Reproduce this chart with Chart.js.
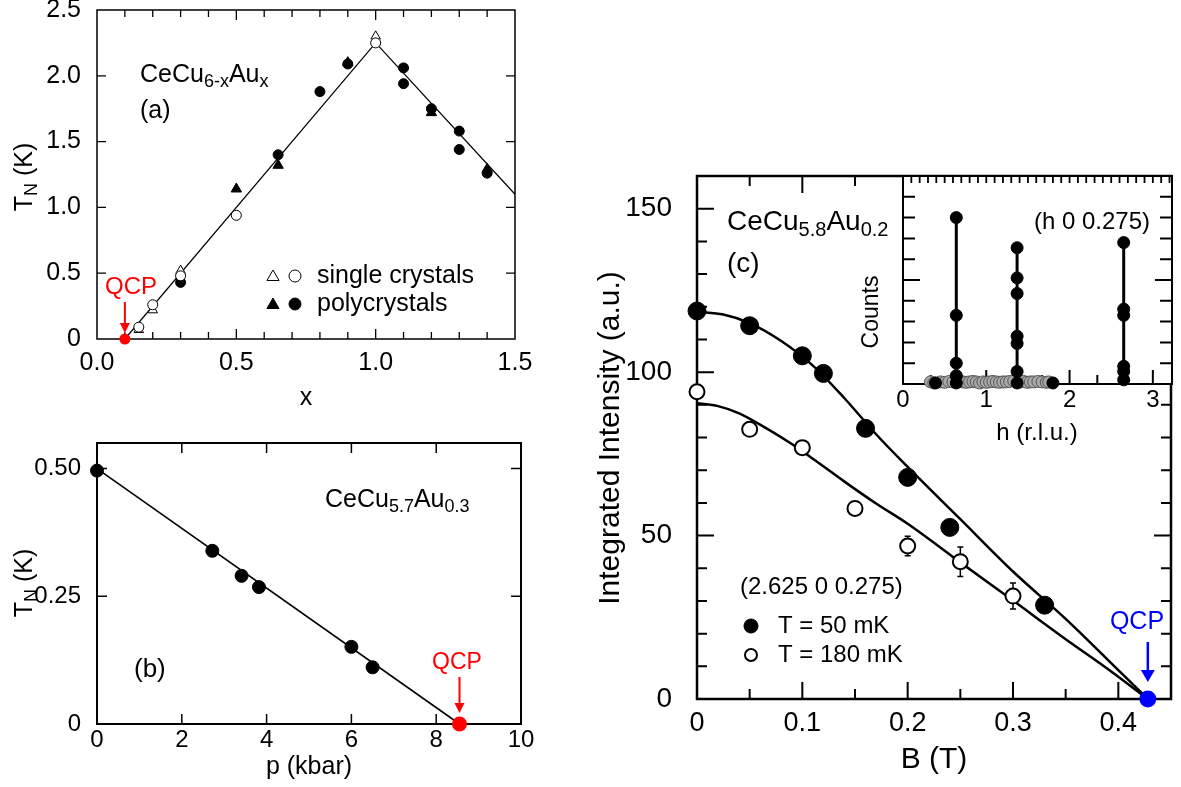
<!DOCTYPE html>
<html>
<head>
<meta charset="utf-8">
<title>CeCu6-xAux quantum critical point</title>
<script src="https://cdn.jsdelivr.net/npm/chart.js@4.4.1/dist/chart.umd.min.js"></script>
<style>
  html, body { margin: 0; padding: 0; background: #fff; }
  #page { position: relative; width: 1181px; height: 787px; overflow: hidden; }
  #page canvas { position: absolute; left: 0; top: 0; }
</style>
</head>
<body>
<div id="page">
  <canvas id="chartA" width="1181" height="787"></canvas>
  <canvas id="chartB" width="1181" height="787"></canvas>
  <canvas id="chartC" width="1181" height="787"></canvas>
  <canvas id="chartInset" width="1181" height="787"></canvas>
</div>
<script>
"use strict";

// ---- panel (a): T_N vs x in CeCu6-xAux ----
const aSingleTriX = [0.15, 0.2, 0.3, 1.0];
const aSingleTriY = [0.07, 0.22, 0.52, 2.30];
const aSingleCirX = [0.15, 0.2, 0.3, 0.5, 1.0];
const aSingleCirY = [0.09, 0.26, 0.48, 0.94, 2.25];
const aPolyTriX = [0.5, 0.65, 0.9, 1.2, 1.4];
const aPolyTriY = [1.14, 1.32, 2.10, 1.72, 1.29];
const aPolyCirX = [0.3, 0.65, 0.8, 0.9, 1.1, 1.1, 1.2, 1.3, 1.3, 1.4];
const aPolyCirY = [0.43, 1.40, 1.88, 2.09, 2.06, 1.94, 1.75, 1.58, 1.44, 1.26];
const aFitX = [0.1, 1.0, 1.5];
const aFitY = [0, 2.25, 1.10];
const aQcp = 0.1;
const aTickX = [0, 0.5, 1.0, 1.5];
const aTickXLabels = ["0.0", "0.5", "1.0", "1.5"];
const aTickY = [0, 0.5, 1.0, 1.5, 2.0, 2.5];
const aTickYLabels = ["0", "0.5", "1.0", "1.5", "2.0", "2.5"];

// ---- panel (b): T_N vs pressure, CeCu5.7Au0.3 ----
const bP = [0, 2.72, 3.41, 3.82, 6.0, 6.5];
const bT = [0.496, 0.339, 0.29, 0.268, 0.151, 0.111];
const bFitP = [0, 8.55];
const bFitT = [0.5, 0];
const bQcp = 8.55;
const bTickX = [0, 2, 4, 6, 8, 10];
const bTickXLabels = ["0", "2", "4", "6", "8", "10"];
const bTickY = [0, 0.25, 0.5];
const bTickYLabels = ["0", "0.25", "0.50"];

// ---- panel (c): integrated intensity vs field, CeCu5.8Au0.2 ----
const cB50 = [0, 0.05, 0.10, 0.12, 0.16, 0.20, 0.24, 0.33];
const cI50 = [118.7, 114.2, 105.0, 99.6, 82.8, 67.8, 52.5, 28.7];
const cB180 = [0, 0.05, 0.10, 0.15, 0.20, 0.25, 0.30];
const cI180 = [94.0, 82.5, 76.9, 58.3, 46.8, 42.0, 31.5];
const cErr180 = [0, 0, 0, 0, 3, 4.5, 4];
const cFitB50 = [0, 0.025, 0.05, 0.08, 0.11, 0.14, 0.17, 0.20, 0.25, 0.30, 0.35, 0.39, 0.428];
const cFitI50 = [118.5, 117.6, 115, 109.5, 102, 92, 81, 71, 55, 39, 24.5, 12, 0];
const cFitB180 = [0, 0.02, 0.04, 0.066, 0.09, 0.11, 0.14, 0.17, 0.20, 0.25, 0.30, 0.35, 0.39, 0.428];
const cFitI180 = [90.5, 89.6, 87.4, 82.8, 78, 73.5, 66.5, 59.8, 53.6, 41.8, 30.1, 18.3, 9.2, 0];
const cQcp = 0.428;
const cTickX = [0, 0.1, 0.2, 0.3, 0.4];
const cTickXLabels = ["0", "0.1", "0.2", "0.3", "0.4"];
const cTickY = [0, 50, 100, 150];
const cTickYLabels = ["0", "50", "100", "150"];

// ---- inset: counts vs h ----
const insetPeakH = [0.64, 1.37, 2.65];
const insetPeak1 = [8.0, 3.3, 1.0, 0.4, 0.05];
const insetPeak2 = [6.55, 5.1, 4.35, 2.3, 1.95, 0.6, 0.05];
const insetPeak3 = [6.8, 3.6, 3.3, 0.85, 0.6, 0.2];
const insetBgH = [0.33, 0.37, 0.45, 0.5, 0.55, 0.6, 0.68, 0.72, 0.76, 0.8, 0.84, 0.88, 0.92, 0.96, 1.0, 1.04,
                  1.08, 1.12, 1.16, 1.2, 1.24, 1.28, 1.33, 1.41, 1.45, 1.49, 1.53, 1.57, 1.62, 1.67, 1.72, 1.75];
const insetBgC = [0.1, 0.05, 0.1, 0.08, 0.12, 0.1, 0.15, 0.1, 0.08, 0.1, 0.12, 0.1, 0.05, 0.1, 0.08, 0.1,
                  0.12, 0.1, 0.08, 0.1, 0.1, 0.12, 0.15, 0.1, 0.12, 0.08, 0.1, 0.1, 0.12, 0.1, 0.08, 0.1];
const insetBaseH = [0.39, 1.8];
const insetBaseC = [0.05, 0.05];
const insetTickX = [0, 1, 2, 3];
const insetTickXLabels = ["0", "1", "2", "3"];

const W = 1181, H = 787;
const FONT = '"Liberation Sans", Arial, Helvetica, sans-serif';

function pts(xs, ys) { return xs.map((x, i) => ({ x: x, y: ys[i] })); }

function axis(min, max, vals, labels, size, pad, fit) {
    return {
        type: "linear", min: min, max: max,
        grid: { display: false }, border: { display: false },
        ticks: {
            display: labels !== null, font: { family: FONT, size: size }, color: "#000",
            padding: pad, autoSkip: false, maxRotation: 0,
            callback: (v, i) => labels ? labels[i] : ""
        },
        afterBuildTicks: s => { s.ticks = vals.map(v => ({ value: v })); },
        afterFit: fit
    };
}
function xFit(bottom) { return s => { s.height = H - bottom; s.paddingLeft = 0; s.paddingRight = 0; }; }
function yFit(left) { return s => { s.width = left; s.paddingTop = 0; s.paddingBottom = 0; }; }

function dots(data, style, r, fill, stroke, bw, order) {
    return { data: data, showLine: false, pointStyle: style, pointRadius: r, pointHoverRadius: r,
             backgroundColor: fill, borderColor: stroke, borderWidth: bw, order: order, clip: false };
}
function line(data, lw, order, smooth) {
    return { data: data, showLine: true, pointRadius: 0, pointHoverRadius: 0, borderColor: "#000",
             backgroundColor: "transparent", borderWidth: lw, order: order, clip: false, tension: 0,
             cubicInterpolationMode: smooth ? "monotone" : "default" };
}

function makeChart(id, box, xs, ys, datasets, decor) {
    return new Chart(document.getElementById(id), {
        type: "scatter",
        data: { datasets: datasets },
        options: {
            responsive: false, animation: false, devicePixelRatio: 1, events: [],
            layout: { padding: { left: 0, top: box.t, right: W - box.r, bottom: 0 } },
            plugins: { legend: { display: false }, tooltip: { enabled: false } },
            scales: { x: xs, y: ys }
        },
        plugins: [decor]
    });
}

// ---- drawing helpers ----
function frame(chart, lw) {
    const ctx = chart.ctx, a = chart.chartArea;
    ctx.save();
    ctx.strokeStyle = "#000";
    ctx.lineWidth = lw;
    ctx.strokeRect(a.left, a.top, a.right - a.left, a.bottom - a.top);
    ctx.restore();
}
function tickMarks(chart, side, vals, lenOf, lw) {
    const ctx = chart.ctx, a = chart.chartArea;
    const horiz = side === "top" || side === "bottom";
    const sc = horiz ? chart.scales.x : chart.scales.y;
    ctx.save();
    ctx.strokeStyle = "#000";
    ctx.lineWidth = lw;
    ctx.beginPath();
    vals.forEach(v => {
        const p = sc.getPixelForValue(v), l = lenOf(v);
        if (side === "bottom") { ctx.moveTo(p, a.bottom); ctx.lineTo(p, a.bottom - l); }
        if (side === "top") { ctx.moveTo(p, a.top); ctx.lineTo(p, a.top + l); }
        if (side === "left") { ctx.moveTo(a.left, p); ctx.lineTo(a.left + l, p); }
        if (side === "right") { ctx.moveTo(a.right, p); ctx.lineTo(a.right - l, p); }
    });
    ctx.stroke();
    ctx.restore();
}
function steps(from, to, step) {
    const out = [];
    for (let k = Math.round(from / step); k * step <= to + 1e-9; k++) out.push(+(k * step).toFixed(6));
    return out;
}
function isMult(v, m) { return Math.abs(v / m - Math.round(v / m)) < 1e-6; }

function rich(ctx, parts, x, y, size, align, color) {
    ctx.save();
    ctx.fillStyle = color || "#000";
    ctx.textBaseline = "middle";
    ctx.textAlign = "left";
    const fonts = parts.map(p => (p[1] ? Math.round(size * 0.7) : size) + "px " + FONT);
    let w = 0;
    const ws = parts.map((p, i) => { ctx.font = fonts[i]; const m = ctx.measureText(p[0]).width; w += m; return m; });
    let cx = align === "center" ? x - w / 2 : align === "right" ? x - w : x;
    parts.forEach((p, i) => {
        ctx.font = fonts[i];
        ctx.fillText(p[0], cx, p[1] ? y + size * 0.3 : y);
        cx += ws[i];
    });
    ctx.restore();
}
function richV(ctx, parts, x, y, size) {
    ctx.save();
    ctx.translate(x, y);
    ctx.rotate(-Math.PI / 2);
    rich(ctx, parts, 0, 0, size, "center");
    ctx.restore();
}
function arrowDown(ctx, x, y1, y2, color, lw, hw, hl) {
    ctx.save();
    ctx.strokeStyle = color;
    ctx.fillStyle = color;
    ctx.lineWidth = lw;
    ctx.beginPath();
    ctx.moveTo(x, y1);
    ctx.lineTo(x, y2 - hl + 1);
    ctx.stroke();
    ctx.beginPath();
    ctx.moveTo(x - hw, y2 - hl);
    ctx.lineTo(x + hw, y2 - hl);
    ctx.lineTo(x, y2);
    ctx.closePath();
    ctx.fill();
    ctx.restore();
}
function marker(ctx, style, x, y, r, fill, stroke, bw) {
    ctx.save();
    ctx.fillStyle = fill;
    ctx.strokeStyle = stroke;
    ctx.lineWidth = bw;
    ctx.beginPath();
    if (style === "triangle") {
        ctx.moveTo(x, y - r);
        ctx.lineTo(x + r * 0.866, y + r * 0.5);
        ctx.lineTo(x - r * 0.866, y + r * 0.5);
        ctx.closePath();
    } else {
        ctx.arc(x, y, r, 0, Math.PI * 2);
    }
    ctx.fill();
    if (bw > 0) ctx.stroke();
    ctx.restore();
}

// ---- panel (a) ----
makeChart("chartA", { t: 10, r: 515 },
    axis(0, 1.5, aTickX, aTickXLabels, 25, 1, xFit(339)),
    axis(0, 2.5, aTickY, aTickYLabels, 25, 8, yFit(97)),
    [
        dots([{ x: aQcp, y: 0 }], "circle", 5.5, "#ff0000", "#ff0000", 0, 0),
        dots(pts(aSingleCirX, aSingleCirY), "circle", 5, "#fff", "#000", 1, 1),
        dots(pts(aSingleTriX, aSingleTriY), "triangle", 5.5, "#fff", "#000", 1, 2),
        dots(pts(aPolyTriX, aPolyTriY), "triangle", 6, "#000", "#000", 1, 3),
        dots(pts(aPolyCirX, aPolyCirY), "circle", 5, "#000", "#000", 1, 4),
        line(pts(aFitX, aFitY), 1.2, 5, false)
    ],
    {
        id: "decorA",
        beforeDatasetsDraw(chart) {
            frame(chart, 1.5);
            const xv = steps(0.1, 1.4, 0.1);
            tickMarks(chart, "bottom", xv, v => isMult(v, 0.5) ? 10 : 7, 1.3);
            tickMarks(chart, "top", xv, v => isMult(v, 0.5) ? 10 : 7, 1.3);
            tickMarks(chart, "left", [0.5, 1.0, 1.5, 2.0], () => 9, 1.3);
            tickMarks(chart, "right", [0.5, 1.0, 1.5, 2.0], () => 9, 1.3);
        },
        afterDraw(chart) {
            const ctx = chart.ctx, xs = chart.scales.x;
            rich(ctx, [["CeCu", 0], ["6-x", 1], ["Au", 0], ["x", 1]], 140, 75, 25, "left");
            rich(ctx, [["(a)", 0]], 140, 111, 25, "left");
            marker(ctx, "triangle", 273, 277, 7, "#fff", "#000", 1);
            marker(ctx, "circle", 295, 276, 6, "#fff", "#000", 1);
            rich(ctx, [["single crystals", 0]], 317, 276, 25, "left");
            marker(ctx, "triangle", 273, 305, 7, "#000", "#000", 1);
            marker(ctx, "circle", 295, 304, 6, "#000", "#000", 1);
            rich(ctx, [["polycrystals", 0]], 317, 304, 25, "left");
            rich(ctx, [["QCP", 0]], 131, 287, 24, "center", "#ff0000");
            arrowDown(ctx, xs.getPixelForValue(aQcp), 302, 333, "#ff0000", 2, 5, 10);
            richV(ctx, [["T", 0], ["N", 1], [" (K)", 0]], 25, 177, 25);
            rich(ctx, [["x", 0]], 306, 398, 25, "center");
        }
    });

// ---- panel (b) ----
makeChart("chartB", { t: 443, r: 521 },
    axis(0, 10, bTickX, bTickXLabels, 24, -6, xFit(724)),
    axis(0, 0.55, bTickY, bTickYLabels, 24, 8, yFit(97)),
    [
        dots([{ x: bQcp, y: 0 }], "circle", 7.5, "#ff0000", "#ff0000", 0, 0),
        dots(pts(bP, bT), "circle", 6.5, "#000", "#000", 1, 1),
        line(pts(bFitP, bFitT), 1.6, 2, false)
    ],
    {
        id: "decorB",
        beforeDatasetsDraw(chart) {
            frame(chart, 2);
            tickMarks(chart, "bottom", [2, 4, 6, 8], () => 10, 1.5);
            tickMarks(chart, "top", [2, 4, 6, 8], () => 10, 1.5);
            tickMarks(chart, "left", [0.25, 0.5], () => 10, 1.5);
            tickMarks(chart, "right", [0.25, 0.5], () => 10, 1.5);
        },
        afterDraw(chart) {
            const ctx = chart.ctx, xs = chart.scales.x;
            rich(ctx, [["CeCu", 0], ["5.7", 1], ["Au", 0], ["0.3", 1]], 325, 500, 25, "left");
            rich(ctx, [["(b)", 0]], 134, 670, 26, "left");
            rich(ctx, [["QCP", 0]], 457, 663, 23, "center", "#ff0000");
            arrowDown(ctx, xs.getPixelForValue(bQcp), 677, 713, "#ff0000", 2, 5, 10);
            richV(ctx, [["T", 0], ["N", 1], [" (K)", 0]], 25, 583, 25);
            rich(ctx, [["p (kbar)", 0]], 309, 767, 25, "center");
        }
    });

// ---- panel (c) main ----
makeChart("chartC", { t: 176, r: 1172 },
    axis(0, 0.45, cTickX, cTickXLabels, 27, 0, xFit(699)),
    axis(0, 160, cTickY, cTickYLabels, 28, 17, yFit(697)),
    [
        dots([{ x: cQcp, y: 0 }], "circle", 8.5, "#0000ff", "#0000ff", 0, 0),
        dots(pts(cB50, cI50), "circle", 9, "#000", "#000", 1, 1),
        dots(pts(cB180, cI180), "circle", 7.5, "#fff", "#000", 2, 2),
        line(pts(cFitB50, cFitI50), 2.5, 3, true),
        line(pts(cFitB180, cFitI180), 2.5, 4, true)
    ],
    {
        id: "decorC",
        beforeDatasetsDraw(chart) {
            const ctx = chart.ctx, xs = chart.scales.x, ys = chart.scales.y;
            frame(chart, 2.5);
            const xv = steps(0.05, 0.4, 0.05);
            const yv = steps(10, 150, 10);
            tickMarks(chart, "bottom", xv, v => isMult(v, 0.1) ? 17 : 10, 2);
            tickMarks(chart, "top", xv, v => isMult(v, 0.1) ? 17 : 10, 2);
            tickMarks(chart, "left", yv, v => isMult(v, 50) ? 17 : 10, 2);
            tickMarks(chart, "right", yv, v => isMult(v, 50) ? 17 : 10, 2);
            // error bars of the 180 mK data
            ctx.save();
            ctx.strokeStyle = "#000";
            ctx.lineWidth = 1.5;
            cB180.forEach((b, i) => {
                if (!cErr180[i]) return;
                const x = xs.getPixelForValue(b);
                const y1 = ys.getPixelForValue(cI180[i] + cErr180[i]);
                const y2 = ys.getPixelForValue(cI180[i] - cErr180[i]);
                ctx.beginPath();
                ctx.moveTo(x, y1); ctx.lineTo(x, y2);
                ctx.moveTo(x - 3, y1); ctx.lineTo(x + 3, y1);
                ctx.moveTo(x - 3, y2); ctx.lineTo(x + 3, y2);
                ctx.stroke();
            });
            ctx.restore();
        },
        afterDraw(chart) {
            const ctx = chart.ctx, xs = chart.scales.x;
            rich(ctx, [["CeCu", 0], ["5.8", 1], ["Au", 0], ["0.2", 1]], 727, 222, 28, "left");
            rich(ctx, [["(c)", 0]], 727, 264, 28, "left");
            richV(ctx, [["Integrated Intensity (a.u.)", 0]], 611, 438, 30);
            rich(ctx, [["B (T)", 0]], 934, 760, 30, "center");
            rich(ctx, [["(2.625 0 0.275)", 0]], 740, 587, 24, "left");
            marker(ctx, "circle", 751, 626, 7, "#000", "#000", 1);
            rich(ctx, [["T = 50 mK", 0]], 778, 626, 24, "left");
            marker(ctx, "circle", 751, 655, 6, "#fff", "#000", 2);
            rich(ctx, [["T = 180 mK", 0]], 778, 655, 24, "left");
            rich(ctx, [["QCP", 0]], 1137, 622, 25, "center", "#0000ff");
            arrowDown(ctx, xs.getPixelForValue(cQcp), 642, 682, "#0000ff", 2.5, 7, 12);
        }
    });

// ---- inset ----
const peakSets = [insetPeak1, insetPeak2, insetPeak3];
const peakLines = peakSets.map((c, i) =>
    line([{ x: insetPeakH[i], y: 0 }, { x: insetPeakH[i], y: Math.max(...c) }], 3, 5, false));
const peakDots = peakSets.map((c, i) =>
    dots(pts(c.map(() => insetPeakH[i]), c), "circle", 6, "#000", "#000", 1, 1));

makeChart("chartInset", { t: 176, r: 1172 },
    axis(0, 3.23, insetTickX, insetTickXLabels, 24, -6, xFit(384)),
    axis(0, 10, [0, 10], null, 12, 0, yFit(903)),
    [
        dots(pts(insetBaseH, insetBaseC), "circle", 6, "#000", "#000", 1, 0),
        dots(pts(insetBgH, insetBgC), "circle", 6, "#a8a8a8", "#555", 1, 2)
    ].concat(peakDots, peakLines),
    {
        id: "decorInset",
        beforeDraw(chart) {
            const ctx = chart.ctx, a = chart.chartArea;
            ctx.save();
            ctx.fillStyle = "#fff";
            ctx.fillRect(a.left, a.top, a.right - a.left, a.bottom - a.top);
            ctx.restore();
        },
        beforeDatasetsDraw(chart) {
            frame(chart, 2);
            const third = [1, 2, 3, 4, 5, 6, 7, 8, 9].map(k => k / 3);
            tickMarks(chart, "bottom", third, v => isMult(v, 1) ? 14 : 9, 2);
            tickMarks(chart, "top", steps(0.1, 3.2, 0.1), () => 7, 1.8);
            const yv = [1, 2, 3, 4, 5, 6, 7, 8, 9];
            tickMarks(chart, "left", yv, v => v === 5 ? 17 : 12, 2);
            tickMarks(chart, "right", yv, v => v === 5 ? 17 : 12, 2);
        },
        afterDraw(chart) {
            const ctx = chart.ctx;
            richV(ctx, [["Counts", 0]], 872, 312, 23);
            rich(ctx, [["(h 0 0.275)", 0]], 1150, 222, 24, "right");
            rich(ctx, [["h (r.l.u.)", 0]], 1037, 433, 24, "center");
        }
    });
</script>
</body>
</html>
